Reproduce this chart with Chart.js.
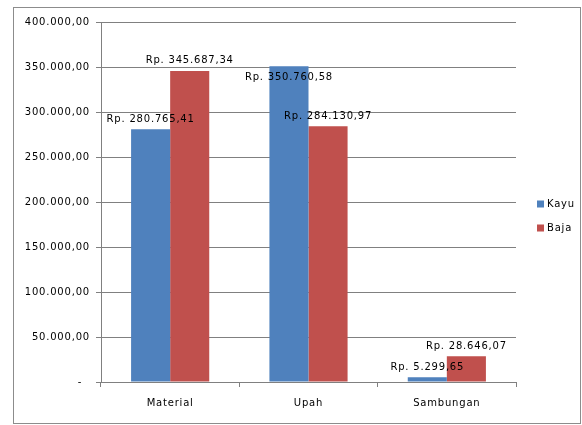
<!DOCTYPE html>
<html>
<head>
<meta charset="utf-8">
<script src="https://cdn.jsdelivr.net/npm/chart.js@4"></script>
<style>
  html, body { margin: 0; padding: 0; background: #fff; }
  #wrap { position: relative; width: 582px; height: 425px; }
</style>
</head>
<body>
<div id="wrap"><canvas id="chart" width="582" height="425"></canvas></div>
<script>
const categories = ['Material', 'Upah', 'Sambungan'];
const seriesNames = ['Kayu', 'Baja'];
const kayu = [280765.41, 350760.58, 5299.65];
const baja = [345687.34, 284130.97, 28646.07];
const yTicks = [0, 50000, 100000, 150000, 200000, 250000, 300000, 350000, 400000];

const FONT = 'DejaVu Sans';
const SPACING = '0.8px';

function fmt(v) {
    let parts = v.toFixed(2).split('.');
    let int = parts[0].replace(/\B(?=(\d{3})+(?!\d))/g, '.');
    return int + ',' + parts[1];
}

// border around the whole chart + wider letter spacing for all text
const frame = {
    id: 'frame',
    beforeInit(chart) {
        chart.ctx.letterSpacing = SPACING;
    },
    beforeDraw(chart) {
        const ctx = chart.ctx;
        ctx.letterSpacing = SPACING;
        ctx.save();
        ctx.strokeStyle = '#8c8c8c';
        ctx.lineWidth = 1;
        ctx.strokeRect(13.5, 7.5, 567, 416);
        ctx.restore();
    }
};

// "Rp. ..." labels above each bar
const barLabels = {
    id: 'barLabels',
    afterDatasetsDraw(chart, args, opts) {
        const ctx = chart.ctx;
        ctx.save();
        ctx.font = '10px "' + FONT + '"';
        ctx.fillStyle = '#000';
        ctx.textAlign = 'center';
        ctx.textBaseline = 'middle';
        chart.data.datasets.forEach((ds, di) => {
            chart.getDatasetMeta(di).data.forEach((bar, i) => {
                let below = (opts.below || []).some(p => p[0] === di && p[1] === i);
                let y = below ? bar.y + 11 : bar.y - 10;
                ctx.fillText('Rp. ' + fmt(ds.data[i]), bar.x, y);
            });
        });
        ctx.restore();
    }
};

// legend on the right side
const sideLegend = {
    id: 'sideLegend',
    afterDraw(chart) {
        const ctx = chart.ctx;
        ctx.save();
        ctx.font = '10px "' + FONT + '"';
        ctx.textBaseline = 'middle';
        ctx.textAlign = 'left';
        chart.data.datasets.forEach((ds, di) => {
            let y = 204 + di * 24;
            ctx.fillStyle = ds.backgroundColor;
            ctx.fillRect(537, y - 3.5, 7, 7);
            ctx.fillStyle = '#000';
            ctx.fillText(ds.label, 547, y);
        });
        ctx.restore();
    }
};

new Chart(document.getElementById('chart'), {
    type: 'bar',
    data: {
        labels: categories,
        datasets: [
            { label: seriesNames[0], data: kayu, backgroundColor: '#4F81BD' },
            { label: seriesNames[1], data: baja, backgroundColor: '#C0504D' }
        ]
    },
    options: {
        responsive: false,
        animation: false,
        layout: { padding: { top: 22, right: 66, left: 0, bottom: 0 } },
        datasets: {
            bar: { categoryPercentage: 0.565, barPercentage: 1.0 }
        },
        plugins: {
            legend: { display: false },
            tooltip: { enabled: false },
            barLabels: { below: [[0, 1]] }
        },
        scales: {
            x: {
                grid: {
                    offset: true,
                    drawOnChartArea: false,
                    drawTicks: true,
                    tickLength: 5,
                    color: '#808080'
                },
                border: { color: '#808080' },
                ticks: {
                    color: '#000',
                    font: { family: FONT, size: 10 },
                    padding: 10,
                    maxRotation: 0
                },
                afterFit(scale) { scale.height = 43; }
            },
            y: {
                min: 0,
                max: 400000,
                afterBuildTicks(scale) {
                    scale.ticks = yTicks.map(v => ({ value: v }));
                },
                grid: {
                    color: '#808080',
                    tickLength: 5
                },
                border: { color: '#808080' },
                ticks: {
                    color: '#000',
                    font: { family: FONT, size: 10 },
                    padding: 6,
                    callback: v => v === 0 ? '-  ' : fmt(v)
                },
                afterFit(scale) { scale.width = 101; }
            }
        }
    },
    plugins: [frame, barLabels, sideLegend]
});
</script>
</body>
</html>
